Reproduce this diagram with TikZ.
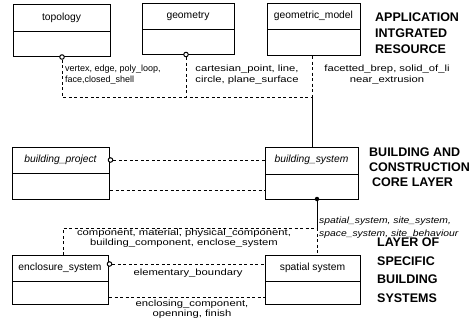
\documentclass[tikz,border=0pt]{standalone}
\usepackage{fontspec}
\setmainfont{Liberation Sans}
\newfontfamily\widefont[FakeStretch=1.25]{Liberation Sans}
\newfontfamily\midfont[FakeStretch=1.15]{Liberation Sans}
\usetikzlibrary{calc}
\tikzset{
  frame/.style={draw, line width=1.1pt, inner sep=0pt, anchor=north west},
  divline/.style={line width=1pt},
  title/.style={inner sep=0pt, font=\fontsize{10.3}{12}\selectfont},
  ititle/.style={inner sep=0pt, font=\fontsize{10.3}{12}\selectfont\itshape},
  dl/.style={line width=0.9pt, dash pattern=on 3pt off 2.5pt},
  sl/.style={line width=1pt},
  lab/.style={inner sep=0pt, align=#1, font=\widefont\fontsize{9}{10.5}\selectfont},
  lab/.default=center,
  nlab/.style={inner sep=0pt, align=left, font=\fontsize{9}{10.5}\selectfont},
  ilab/.style={inner sep=0pt, align=left, font=\midfont\fontsize{9}{12.5}\selectfont\itshape},
  head/.style={inner sep=0pt, anchor=base west, font=\fontsize{12.5}{15}\selectfont\bfseries},
  ocirc/.style={circle, draw, line width=1pt, fill=white, minimum size=4.5pt, inner sep=0pt},
  fcirc/.style={circle, fill=black, minimum size=4.5pt, inner sep=0pt},
}
\begin{document}
\begin{tikzpicture}[x=1pt,y=-1pt]
\useasboundingbox (0,0) rectangle (475,325);
% ---- top row
\node[frame, minimum width=97pt, minimum height=52pt] (topo) at (13,4) {};
\draw[divline] (13,31) -- (110,31);
\node[title] (topoT) at (61.5,17.5) {topology};
\node[frame, minimum width=92pt, minimum height=51pt] (geo) at (142,3) {};
\draw[divline] (142,29) -- (234,29);
\node[title] (geoT) at (188,16) {geometry};
\node[frame, minimum width=93pt, minimum height=52pt] (gm) at (267,3) {};
\draw[divline] (267,29) -- (360,29);
\node[title] (gmT) at (313.5,16) {geometric\_model};
\node[head] (h1a) at (375,21.5) {APPLICATION};
\node[head] (h1b) at (375,37.5) {INTGRATED};
\node[head] (h1c) at (375,53.5) {RESOURCE};
% ---- middle row
\node[frame, minimum width=97pt, minimum height=52pt] (bp) at (12,147) {};
\draw[divline] (12,173) -- (109,173);
\node[ititle] (bpT) at (60.5,160) {building\_project};
\node[frame, minimum width=93pt, minimum height=52pt] (bs) at (265,147) {};
\draw[divline] (265,174) -- (358,174);
\node[ititle] (bsT) at (311.5,160) {building\_system};
\node[head] (h2a) at (369,156.5) {BUILDING AND};
\node[head] (h2b) at (369,171.5) {CONSTRUCTION};
\node[head] (h2c) at (372,186.5) {CORE LAYER};
% ---- bottom row
\node[frame, minimum width=96pt, minimum height=49pt] (es) at (12,255) {};
\draw[divline] (12,281) -- (108,281);
\node[title] (esT) at (60,268) {enclosure\_system};
\node[frame, minimum width=95pt, minimum height=49pt] (ss) at (265,255) {};
\draw[divline] (265,281) -- (360,281);
\node[title] (ssT) at (312.5,267.5) {spatial system};
\node[head] (h3a) at (377,246.5) {LAYER OF};
\node[head] (h3b) at (377,265) {SPECIFIC};
\node[head] (h3c) at (377,283.5) {BUILDING};
\node[head] (h3d) at (377,302) {SYSTEMS};
% ---- markers
\node[ocirc] (topoC) at (62,57) {};
\node[ocirc] (geoC) at (186,54.5) {};
\node[ocirc] (bpC) at (110.5,160) {};
\node[ocirc] (esC) at (109.5,264) {};
\node[fcirc] (bsC) at (317,199) {};
% ---- junctions
\coordinate (j1) at (62,97);
\coordinate (j3) at (186,97);
\coordinate (j2) at (312,97);
\coordinate (k1) at (63,228);
\coordinate (k2) at (317,228);
% ---- connectors top
\draw[dl] (topoC) -- (j1) -- (j2);
\draw[dl] (geoC) -- (j3);
\draw[dl] (gm.south -| j2) -- (j2);
\draw[sl] (j2) -- (bs.north -| j2);
\node[nlab, anchor=north west] (l1) at (65,65) {vertex, edge, poly\_loop,\\face,closed\_shell};
\node[lab, anchor=north] (l2) at (247,65) {cartesian\_point, line,\\circle, plane\_surface};
\node[lab, anchor=north] (l3) at (387,65) {facetted\_brep, solid\_of\_li\\near\_extrusion};
% ---- connectors middle
\draw[dl] (bpC) -- (bs.west |- bpC);
\draw[dl] (bp.east |- 0,190) -- (bs.west |- 0,190);
% ---- connectors bottom
\draw[sl] (bsC) -- (k2);
\draw[dl] (k2) -- (ss.north -| k2);
\draw[dl] (es.north -| k1) -- (k1) -- (k2);
\node[lab, anchor=north] (l4) at (184,228.5) {component, material, physical\_component,\\building\_component, enclose\_system};
\node[ilab, anchor=north west] (l5) at (319,217) {spatial\_system, site\_system,\\space\_system, site\_behaviour};
\draw[dl] (esC) -- (ss.west |- esC);
\node[lab, anchor=north] (l6) at (188,268.5) {elementary\_boundary};
\draw[dl] (es.east |- 0,297) -- (ss.west |- 0,297);
\node[lab, anchor=north] (l7) at (192,299.5) {enclosing\_component,\\openning, finish};
\end{tikzpicture}
\end{document}
